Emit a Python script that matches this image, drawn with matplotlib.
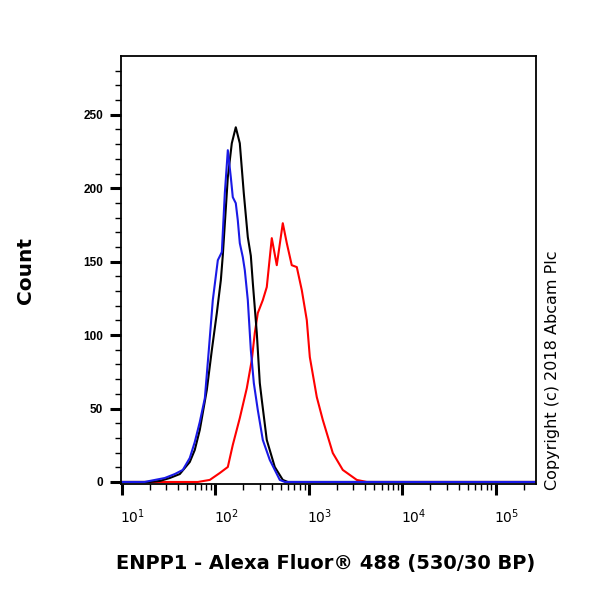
import matplotlib
matplotlib.use('Agg')
import matplotlib.pyplot as plt
from matplotlib.transforms import ScaledTranslation

plt.rcParams['font.family'] = ['Liberation Sans', 'DejaVu Sans']

# isotype / unstained control (black)
black_x = [9.8, 19.9, 25.5, 32.6, 41.7, 53.3, 60.3, 68.2, 81.1, 91.8, 103.8, 114.6,
           120.3, 136.1, 150.1, 165.6, 182.8, 201.7, 222.7, 239.9, 252.0, 277.9,
           299.2, 314.4, 355.3, 432.7, 527.1, 596.3, 270000]
black_y = [0, 0, 0.7, 2.7, 5.4, 13.6, 21.8, 35.4, 62.6, 89.8, 115.0, 137.4,
           154.4, 207.5, 230.6, 241.5, 230.6, 196.6, 166.7, 154.0, 135.4, 101.4,
           67.3, 55.8, 28.6, 10.2, 1.4, 0, 0]

# blue control
blue_x = [9.8, 17.5, 19.9, 28.8, 36.9, 44.9, 53.3, 60.3, 68.2, 77.3, 85.2, 94.0,
          106.4, 117.4, 126.4, 136.1, 146.5, 153.8, 165.6, 174.0, 182.8, 196.8,
          206.8, 222.7, 239.9, 258.3, 284.8, 322.2, 382.6, 489.5, 553.8, 270000]
blue_y = [0, 0, 0.7, 2.7, 5.4, 8.2, 16.3, 27.2, 40.8, 57.1, 89.8, 123.8,
          151.0, 156.5, 196.6, 225.9, 207.5, 193.9, 189.8, 178.2, 162.6, 153.1,
          144.2, 123.8, 89.8, 67.3, 49.0, 28.6, 15.0, 1.4, 0, 0]

# ENPP1 stained (red)
red_x = [9.8, 60.3, 65.0, 87.3, 111.7, 136.1, 153.8, 182.8, 217.3, 245.6, 264.4,
         284.8, 322.2, 355.3, 401.9, 454.6, 527.1, 581.8, 657.3, 744.4, 841.9,
         952.2, 1026, 1218, 1413, 1807, 2311, 3262, 4172, 270000]
red_y = [0, 0, 0, 1.4, 6.1, 10.2, 25.2, 43.5, 63.9, 83.0, 101.4,
         115.0, 123.8, 132.7, 166.0, 147.6, 176.2, 162.6, 147.6, 146.3, 130.6,
         110.2, 85.0, 57.8, 42.2, 19.7, 8.2, 1.4, 0, 0]

y_ticks = [0, 50, 100, 150, 200, 250]
x_ticks = [10, 100, 1000, 10000, 100000]
x_labels = ['$10^{1}$', '$10^{2}$', '$10^{3}$', '$10^{4}$', '$10^{5}$']

fig = plt.figure(figsize=(6, 6), dpi=100)
ax = fig.add_axes([0.2017, 0.1933, 0.6917, 0.7133])

ax.plot(red_x, red_y, color='#ff0000', linewidth=1.5)
ax.plot(black_x, black_y, color='black', linewidth=1.5)
ax.plot(blue_x, blue_y, color='#1a1ae6', linewidth=1.5)

ax.set_xscale('log')
ax.set_xlim(9.8, 2.7e5)
ax.set_ylim(-1.4, 290)

ax.set_yticks(y_ticks)
ax.set_yticks(range(0, 290, 10), minor=True)
ax.set_yticklabels([str(v) for v in y_ticks], fontsize=8.5, fontweight='bold')
ax.set_xticks(x_ticks)
ax.set_xticklabels(x_labels, fontsize=10)

ax.tick_params(which='major', direction='out', length=8, width=2.2, pad=5)
ax.tick_params(which='minor', direction='out', length=4, width=1)
ax.tick_params(axis='x', which='major', pad=9)
for s in ax.spines.values():
    s.set_linewidth(1.3)

# labels sit a bit to the right of their ticks
shift = ScaledTranslation(0.11, 0, fig.dpi_scale_trans)
for lab in ax.get_xticklabels():
    lab.set_transform(lab.get_transform() + shift)

fig.text(25 / 600, 0.55, 'Count', rotation=90, ha='center', va='center',
         fontsize=14.5, fontweight='bold', family='DejaVu Sans')
fig.text(326 / 600, 1 - 563 / 600, 'ENPP1 - Alexa Fluor® 488 (530/30 BP)',
         ha='center', va='center', fontsize=14, fontweight='bold',
         family='DejaVu Sans')
fig.text(553 / 600, 0.383, 'Copyright (c) 2018 Abcam Plc', rotation=90,
         ha='center', va='center', fontsize=11.5, family='DejaVu Sans')

fig.savefig('out.png', dpi=100)
